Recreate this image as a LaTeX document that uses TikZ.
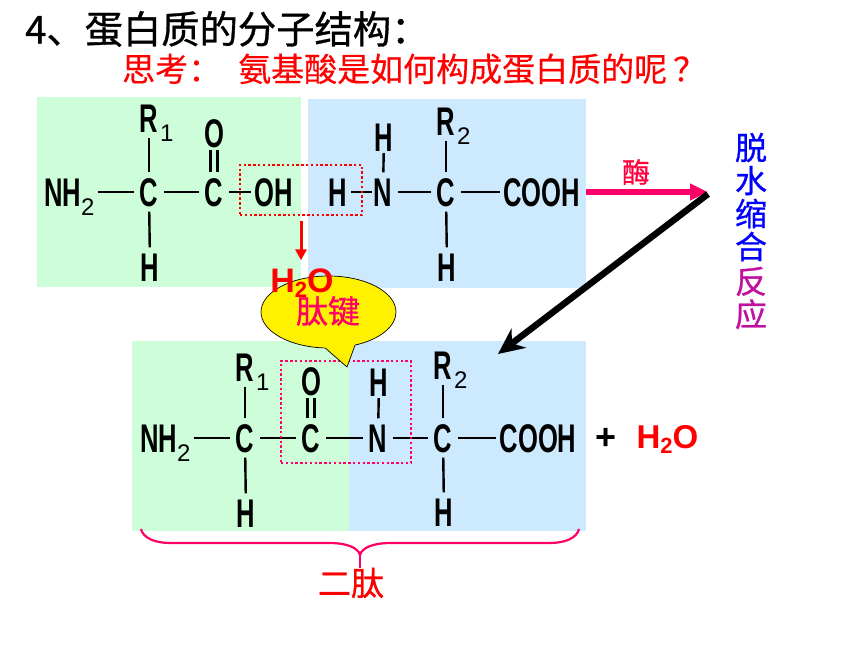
\documentclass[tikz,border=0pt]{standalone}
\usepackage{fontspec}
\usepackage{tikz}
\usetikzlibrary{arrows.meta}
\usetikzlibrary{shapes.callouts}
\setmainfont{Liberation Sans}
\newfontfamily\cjkfont[FakeBold=0.8]{Noto Sans CJK SC}
\newfontfamily\cjklight[FakeBold=0.3]{Noto Sans CJK SC}
\newfontfamily\chemfont[FakeStretch=0.64]{Liberation Sans}
\definecolor{panelgreen}{RGB}{205,253,217}
\definecolor{panelblue}{RGB}{204,233,254}
\definecolor{hotpink}{RGB}{255,0,102}
\definecolor{enzymered}{RGB}{255,0,60}
\definecolor{reactpurple}{RGB}{192,16,159}
\newcommand{\px}[1]{\fontsize{#1}{#1}\selectfont}
\newcommand{\lowsub}[1]{\smash{\raisebox{-9pt}{\normalfont\px{24}#1}}}
\newcommand{\sidesub}[1]{\rlap{\kern2pt\lowsub{#1}}}
\newcommand{\watertext}{H\raisebox{-5pt}{\px{22}2}O}

\begin{document}
\begin{tikzpicture}[
        x=1pt,y=-1pt,
        panel/.style={inner sep=0pt,outer sep=0pt},
        atom/.style={inner sep=0pt,minimum width=30pt,minimum height=39pt,text height=28pt,text depth=0pt,font=\chemfont\bfseries\px{40}},
        group/.style={atom,minimum width=0pt,inner sep=3pt},
        bond/.style={line width=2.4pt},
        dotbox/.style={draw,line width=2.3pt,dash pattern=on 2.4pt off 2.4pt,inner sep=0pt,outer sep=0pt},
        water/.style={red,inner sep=0pt,text height=25pt,text depth=0pt,font=\bfseries\px{33}},
        cjk/.style={inner sep=0pt,font=\cjkfont\px{#1}}
    ]
        \useasboundingbox (0,0) rectangle (860,645);

        % Panels
        \node[panel,fill=panelgreen,minimum width=264pt,minimum height=190pt] (panelA) at (169,192) {};
        \node[panel,fill=panelblue,minimum width=278pt,minimum height=189pt] (panelB) at (447,193.5) {};
        \node[panel,fill=panelgreen,minimum width=217pt,minimum height=190pt] (panelC) at (240.5,436) {};
        \node[panel,fill=panelblue,minimum width=237pt,minimum height=190pt] (panelD) at (467.5,436) {};

        % Titles
        \node[cjk=38.3,anchor=west] (title) at (25,29) {4、蛋白质的分子结构：};
        \node[red,inner sep=0pt,font=\cjklight\px{33},anchor=west] (question) at (122,69) {思考：\kern17pt 氨基酸是如何构成蛋白质的呢\kern6pt ？};

        % Amino acid 1
        \node[group,anchor=west] (NHa) at (41,192) {NH\lowsub{2}};
        \node[atom] (Ca) at (149,192) {C};
        \node[atom] (Ra) at (149,118) {R\sidesub{1}};
        \node[atom] (Ha) at (150,267) {H};
        \node[atom] (Cb) at (214,192) {C};
        \node[atom] (Oa) at (214,133) {O};
        \node[group] (OHa) at (273.5,192) {OH};

        % Amino acid 2
        \node[atom] (Hb) at (338,192) {H};
        \node[atom] (Na) at (383,192) {N};
        \node[atom] (Hc) at (384,137) {H};
        \node[atom] (Cc) at (446,192) {C};
        \node[atom] (Rb) at (446,121) {R\sidesub{2}};
        \node[atom] (Hd) at (447,267) {H};
        \node[group] (COOHa) at (541.5,192) {COOH};

        % Dipeptide
        \node[group,anchor=west] (NHb) at (137,438) {NH\lowsub{2}};
        \node[atom] (Cd) at (245,438) {C};
        \node[atom] (Rc) at (245,367) {R\sidesub{1}};
        \node[atom] (He) at (246,513) {H};
        \node[atom] (Ce) at (311,438) {C};
        \node[atom] (Ob) at (311,381) {O};
        \node[atom] (Nb) at (378,438) {N};
        \node[atom] (Hf) at (379,382) {H};
        \node[atom] (Cf) at (443,438) {C};
        \node[atom] (Rd) at (443,365) {R\sidesub{2}};
        \node[atom] (Hg) at (444,512) {H};
        \node[group] (COOHb) at (538,438) {COOH};

        % Bonds
        \draw[bond] (NHa) -- (Ca);
        \draw[bond] (Ca) -- (Cb);
        \draw[bond] (Ca) -- (Ra);
        \draw[bond] (Ca) -- (Ha);
        \draw[bond] (Cb) -- (OHa);
        \draw[bond,shorten >=-2.5pt] ([xshift=-3.5pt]Cb.north) -- ([xshift=-3.5pt]Oa.south);
        \draw[bond,shorten >=-2.5pt] ([xshift=3.5pt]Cb.north) -- ([xshift=3.5pt]Oa.south);
        \draw[bond,shorten <=-2pt,shorten >=-4pt] (Hb) -- (Na);
        \draw[bond,shorten >=-3.5pt] (Na) -- (Hc);
        \draw[bond] (Na) -- (Cc);
        \draw[bond] (Cc) -- (Rb);
        \draw[bond] (Cc) -- (Hd);
        \draw[bond] (Cc) -- (COOHa);
        \draw[bond] (NHb) -- (Cd);
        \draw[bond] (Cd) -- (Rc);
        \draw[bond] (Cd) -- (He);
        \draw[bond] (Cd) -- (Ce);
        \draw[bond,shorten >=-2.5pt] ([xshift=-3.5pt]Ce.north) -- ([xshift=-3.5pt]Ob.south);
        \draw[bond,shorten >=-2.5pt] ([xshift=3.5pt]Ce.north) -- ([xshift=3.5pt]Ob.south);
        \draw[bond] (Ce) -- (Nb);
        \draw[bond,shorten >=-3.5pt] (Nb) -- (Hf);
        \draw[bond] (Nb) -- (Cf);
        \draw[bond] (Cf) -- (Rd);
        \draw[bond] (Cf) -- (Hg);
        \draw[bond] (Cf) -- (COOHb);

        % Dotted boxes
        \node[dotbox,red,minimum width=122pt,minimum height=50pt] (boxOH) at (301,190) {};
        \node[dotbox,hotpink,minimum width=130pt,minimum height=102pt] (boxCN) at (346,412) {};

        % Enzyme and reaction
        \node[water] (waterB) at (667.5,435.5) {\watertext};
        \node[inner sep=0pt,text height=25pt,text depth=0pt,font=\bfseries\px{36}] (plus) at (606,437) {+};
        \node[cjk=28,enzymered] (enzyme) at (636,172) {酶};
        \coordinate (enzymeEnd) at (708,192);
        \coordinate (turn) at (708,194);
        \coordinate (tip) at (498,354);
        \draw[-{Triangle[length=18pt,width=16pt]},line width=5.5pt,hotpink] (COOHa.east -| panelB.east) -- (enzymeEnd);
        \draw[-{Stealth[length=26pt,width=24pt]},line width=6.5pt] (turn) -- (tip);
        \node[cjk=32,blue,align=center] (reactA) at (751,197) {脱\\[1pt]水\\[1pt]缩\\[1pt]合};
        \node[cjk=32,reactpurple,align=center] (reactB) at (751,298) {反\\[1pt]应};

        % Peptide bond callout
        \node[ellipse callout,draw=black,fill=yellow,line width=.7pt,inner sep=0pt,minimum width=135pt,minimum height=72pt,
            callout absolute pointer={(347,367)},callout pointer arc=26] (bubble) at (328.5,312) {};
        \node[water,font=\bfseries\px{34}] (waterA) at (302,280) {\watertext};
        \draw[-{Triangle[length=11pt,width=11pt]},line width=3pt,red,shorten <=6pt,shorten >=7pt] (boxOH) -- (boxOH |- waterA.north);
        \node[cjk=32,hotpink] (peptide) at (328,311) {肽键};

        % Brace
        \coordinate (braceL) at (141,529);
        \coordinate (braceM) at (360,555);
        \coordinate (braceR) at (579,529);
        \draw[hotpink,line width=2.2pt] (braceL) .. controls +(2,9) and (155,543) .. (170,543) -- (330,543)
            .. controls (345,543) and (358,547) .. (braceM) .. controls (362,547) and (375,543) .. (390,543)
            -- (550,543) .. controls (565,543) and +(-2,9) .. (braceR);
        \node[cjk=33,red] (dipeptide) at (351,583) {二肽};
        \draw[hotpink,line width=2.2pt] (braceM) -- (dipeptide.north -| braceM);
    \end{tikzpicture}
\end{document}
